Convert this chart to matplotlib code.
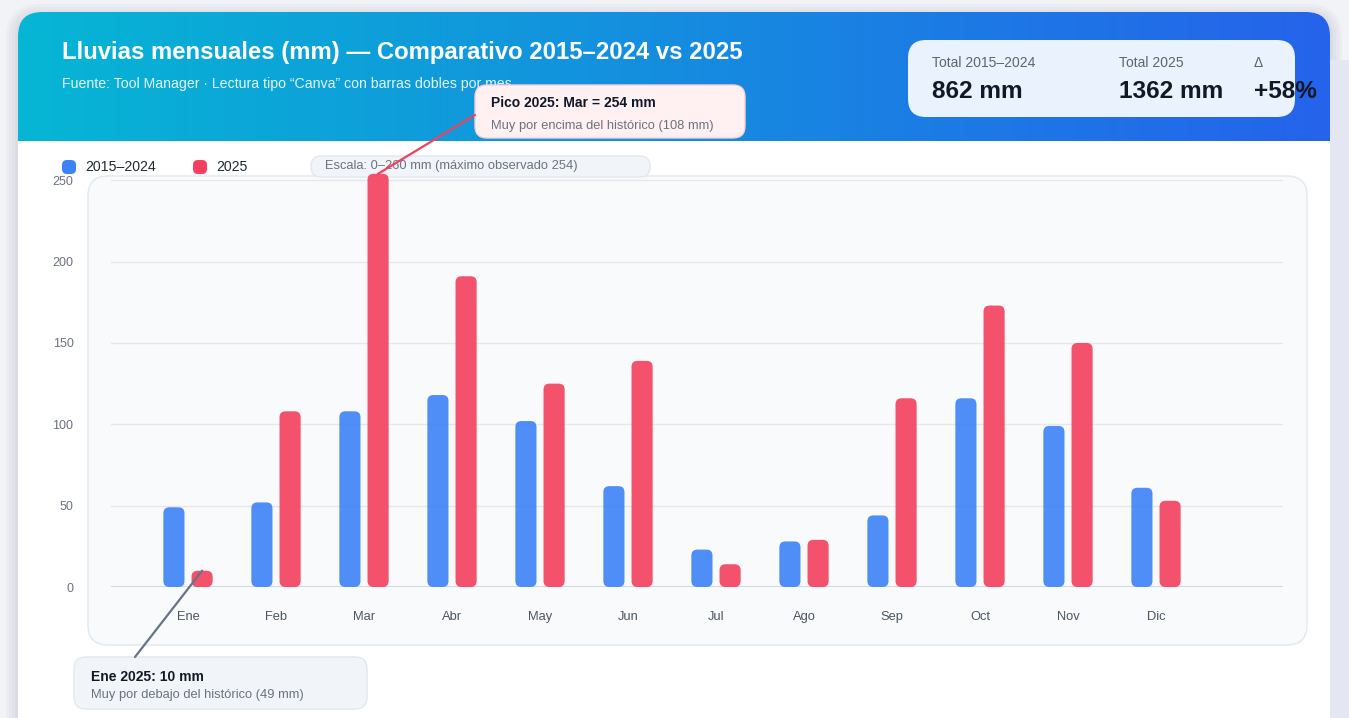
import matplotlib
matplotlib.use('Agg')
import matplotlib.pyplot as plt
from matplotlib.patches import FancyBboxPatch, Rectangle, ConnectionPatch
import numpy as np

plt.rcParams['font.family'] = ['Liberation Sans', 'DejaVu Sans']

# ---------------- data ----------------
months = ['Ene', 'Feb', 'Mar', 'Abr', 'May', 'Jun', 'Jul', 'Ago', 'Sep', 'Oct', 'Nov', 'Dic']
hist = [49, 52, 108, 118, 102, 62, 23, 28, 44, 116, 99, 61]
y2025 = [10, 108, 254, 191, 125, 139, 14, 29, 116, 173, 150, 53]
yticks = [0, 50, 100, 150, 200, 250]
series_names = ['2015–2024', '2025']
title = 'Lluvias mensuales (mm) — Comparativo 2015–2024 vs 2025'
subtitle = 'Fuente: Tool Manager · Lectura tipo “Canva” con barras dobles por mes'
stat_labels = ['Total 2015–2024', 'Total 2025', 'Δ']
stat_values = ['862 mm', '1362 mm', '+58%']
scale_note = 'Escala: 0–260 mm (máximo observado 254)'
ann1 = ('Pico 2025: Mar = 254 mm', 'Muy por encima del histórico (108 mm)')
ann2 = ('Ene 2025: 10 mm', 'Muy por debajo del histórico (49 mm)')

BLUE = '#3b82f6'
RED = '#f43f5e'

W, H = 1349, 718
fig = plt.figure(figsize=(W / 100, H / 100), dpi=100)
fig.patch.set_facecolor('#f2f3f7')

bg = fig.add_axes([0, 0, 1, 1])
bg.axis('off')
bg.set_autoscale_on(False)
bg.set_xlim(0, W)
bg.set_ylim(H, 0)

# card shadow
for i, a in enumerate([0.04, 0.04, 0.04, 0.04]):
    d = 3 + i * 3
    bg.add_patch(FancyBboxPatch((18 - d, 12 - d + 4), 1312 + 2 * d, 800,
                                boxstyle=f'round,pad=0,rounding_size={22 + d}',
                                fc='#5a6488', ec='none', alpha=a, zorder=0))
bg.add_patch(Rectangle((1330, 60), 19, 700, fc='#e4e6f2', ec='none', zorder=0.5))
card = FancyBboxPatch((18, 12), 1312, 800, boxstyle='round,pad=0,rounding_size=24',
                      fc='white', ec='none', zorder=1)
bg.add_patch(card)

# header gradient
c0 = np.array([0x06, 0xb6, 0xd4]) / 255
c1 = np.array([0x25, 0x63, 0xeb]) / 255
t = np.linspace(0, 1, 512)[None, :, None]
img = c0 + (c1 - c0) * t
im = bg.imshow(img, extent=[18, 1330, 141, 12], aspect='auto', zorder=2, interpolation='bilinear')
im.set_clip_path(card)

bg.text(62, 52, title, color='white', fontsize=17.2, fontweight='bold', va='center', ha='left', zorder=5)
bg.text(62, 84, subtitle, color='#e6f4fb', fontsize=10.2, va='center', ha='left', zorder=5)

# stats box
bg.add_patch(FancyBboxPatch((908, 40), 387, 77, boxstyle='round,pad=0,rounding_size=18',
                            fc='#eaf2fd', ec='none', zorder=4))
for xs, lab, val in zip([932, 1119, 1254], stat_labels, stat_values):
    bg.text(xs, 63, lab, color='#5b6473', fontsize=10, va='center', ha='left', zorder=5)
    bg.text(xs, 91, val, color='#111827', fontsize=17.6, fontweight='bold', va='center', ha='left', zorder=5)

# legend
for xs, name, col in zip([62, 193], series_names, [BLUE, RED]):
    bg.add_patch(FancyBboxPatch((xs, 160), 14, 14, boxstyle='round,pad=0,rounding_size=5',
                                fc=col, ec='none', zorder=5))
    bg.text(xs + 23, 167, name, color='#1f2937', fontsize=10.2, va='center', ha='left', zorder=5)

bg.add_patch(FancyBboxPatch((311, 156), 339, 21, boxstyle='round,pad=0,rounding_size=10',
                            fc='#f1f5f9', ec='#e2e8f0', lw=1, zorder=4))
bg.text(325, 166.5, scale_note, color='#6b7280', fontsize=9.3, va='center', ha='left', zorder=5)

# inner chart panel
bg.add_patch(FancyBboxPatch((88, 176), 1219, 469, boxstyle='round,pad=0,rounding_size=20',
                            fc='#f8fafc', ec='#e2e8f0', lw=1, zorder=3))

# annotation boxes
bg.add_patch(FancyBboxPatch((475, 85), 270, 53, boxstyle='round,pad=0,rounding_size=12',
                            fc='#fff1f2', ec='#fecdd3', lw=1, zorder=6))
bg.text(491, 103, ann1[0], color='#111827', fontsize=10, fontweight='bold', va='center', ha='left', zorder=7)
bg.text(491, 126, ann1[1], color='#6b7280', fontsize=9.3, va='center', ha='left', zorder=7)

bg.add_patch(FancyBboxPatch((74, 657), 293, 52, boxstyle='round,pad=0,rounding_size=12',
                            fc='#f1f5f9', ec='#e2e8f0', lw=1, zorder=6))
bg.text(91, 677, ann2[0], color='#111827', fontsize=10, fontweight='bold', va='center', ha='left', zorder=7)
bg.text(91, 695, ann2[1], color='#6b7280', fontsize=9.3, va='center', ha='left', zorder=7)

# ---------------- chart axes ----------------
ax_l, ax_r, ax_t, ax_b = 111, 1283, 164, 587
ax = fig.add_axes([ax_l / W, 1 - ax_b / H, (ax_r - ax_l) / W, (ax_b - ax_t) / H])
ax.patch.set_alpha(0)
x = np.arange(len(months))
step_px = 88.0
x0_px = 188.0
ax.set_xlim((ax_l - x0_px) / step_px, (ax_r - x0_px) / step_px)
ax.set_ylim(0, 260)
for s in ax.spines.values():
    s.set_visible(False)
ax.set_yticks(yticks)
ax.set_yticklabels([str(v) for v in yticks])
ax.set_xticks(x)
ax.set_xticklabels(months)
ax.tick_params(axis='y', length=0, pad=27, labelsize=9, labelcolor='#6b7280')
ax.tick_params(axis='x', length=0, pad=17, labelsize=9.3, labelcolor='#4b5563')
ax.yaxis.grid(True, color='#e5e7eb', lw=1)
ax.set_axisbelow(True)
ax.axhline(0, color='#cbd5e1', lw=2, zorder=2)

ypx = (ax_b - ax_t) / 260.0
rad_px = 6
rs = rad_px / step_px
asp = step_px / ypx

def round_bars(bars, color):
    for r in bars:
        bx, by = r.get_xy()
        p = FancyBboxPatch((bx, by), r.get_width(), r.get_height(),
                           boxstyle=f'round,pad=0,rounding_size={rs}',
                           mutation_aspect=asp, fc=color, ec='none', alpha=0.9, zorder=3)
        ax.add_patch(p)
        r.set_visible(False)

off = 0.16
bw = 0.24
b1 = ax.bar(x - off, hist, bw, color=BLUE)
b2 = ax.bar(x + off, y2025, bw, color=RED)
round_bars(b1, BLUE)
round_bars(b2, RED)

# connector lines
i_max = int(np.argmax(y2025))
i_min = int(np.argmin(y2025))
cp1 = ConnectionPatch(xyA=(475, H - 115), coordsA='figure pixels',
                      xyB=(x[i_max] + off, y2025[i_max]), coordsB=ax.transData,
                      color=RED, lw=1.6, zorder=10)
fig.add_artist(cp1)
cp2 = ConnectionPatch(xyA=(135, H - 657), coordsA='figure pixels',
                      xyB=(x[i_min] + off, y2025[i_min]), coordsB=ax.transData,
                      color='#64748b', lw=1.6, zorder=10)
fig.add_artist(cp2)

fig.savefig('out.png', dpi=100, facecolor=fig.get_facecolor())
